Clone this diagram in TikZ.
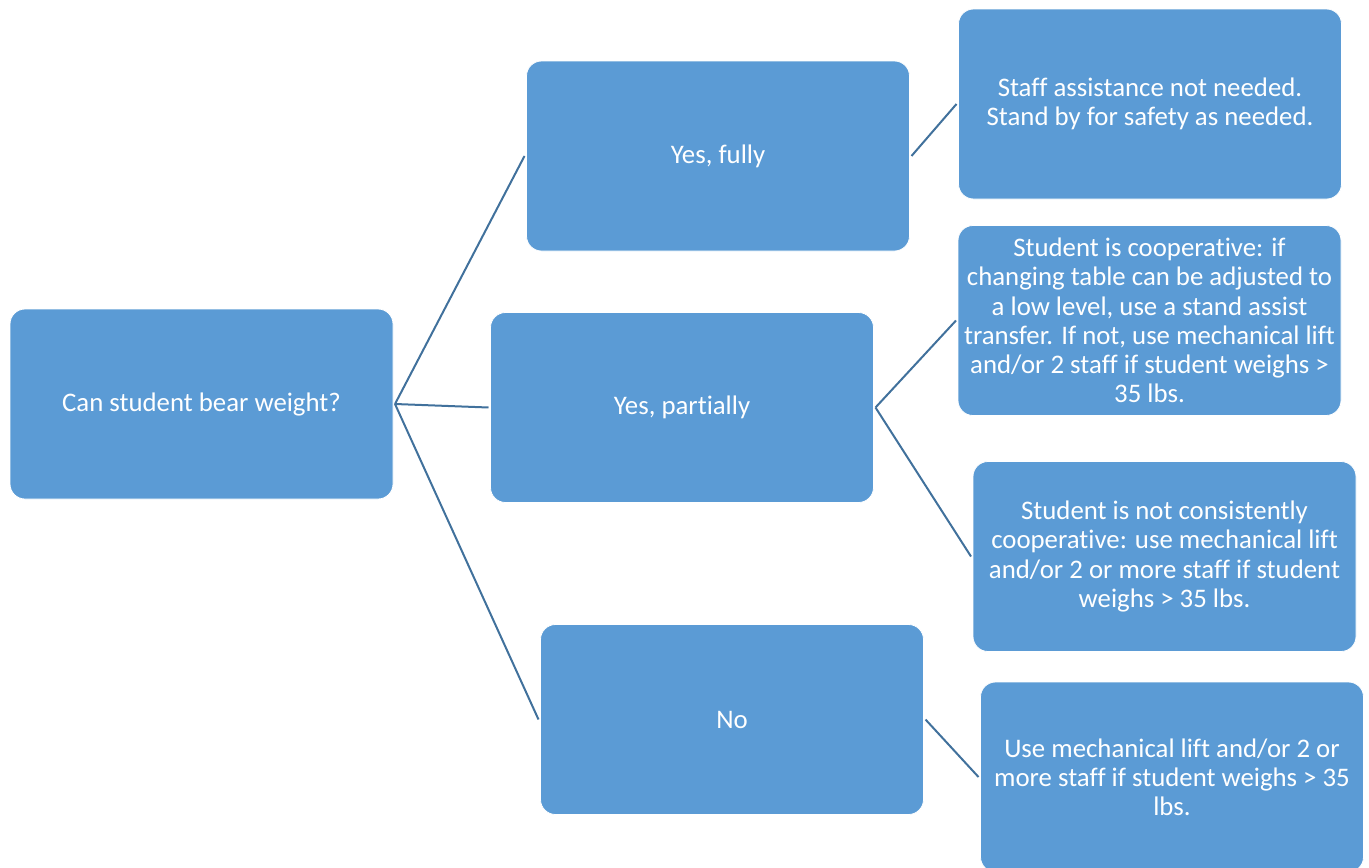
\documentclass[tikz,border=0pt]{standalone}
\usepackage{fontspec}
\setmainfont{Carlito}[Ligatures=NoCommon]
\definecolor{boxBlue}{HTML}{5B9BD5}
\definecolor{lineBlue}{HTML}{41719C}
\begin{document}
\begin{tikzpicture}
[x=0.5pt,y=-0.5pt,
  lineDecorate/.style={-,line width=1pt,draw=lineBlue},%
  nodeDecorate/.style={shape=rectangle,rounded corners=7.5pt,fill=boxBlue,draw=white,
    line width=0.4pt,text=white,align=center,minimum width=191.5pt,minimum height=95pt,
    inner sep=2pt,outer sep=1pt,font=\fontsize{13.4}{14.6}\selectfont}]
\useasboundingbox (0,0) rectangle (1369,867);
\clip (0,0) rectangle (1369,867);
%% nodes or boxes
\foreach \nodename/\x/\y/\txt in {
  root/201.5/404/{Can student bear weight?},
  fully/718/156/{Yes, fully},
  partially/682/407.5/{Yes, partially},
  no/732/719.5/{No},
  staff/1150/104/{Staff assistance not needed.\\Stand by for safety as needed.},
  coop/1149.5/320.5/{Student is cooperative: if\\changing table can be adjusted to\\a low level, use a stand assist\\transfer. If not, use mechanical lift\\and/or 2 staff if student weighs >\\35 lbs.},
  notcons/1164.5/556.5/{Student is not consistently\\cooperative: use mechanical lift\\and/or 2 or more staff if student\\weighs > 35 lbs.},
  usemech/1172/777/{Use mechanical lift and/or 2 or\\more staff if student weighs > 35\\lbs.}}
{
  \node (\nodename) at (\x,\y) [nodeDecorate] {\txt};
}
%% edges or lines
\path
\foreach \startnode/\endnode in {
  root/fully, root/partially, root/no, fully/staff,
  partially/coop, partially/notcons, no/usemech}
{
  (\startnode.east) edge[lineDecorate] (\endnode.west)
};
\end{tikzpicture}
\end{document}
